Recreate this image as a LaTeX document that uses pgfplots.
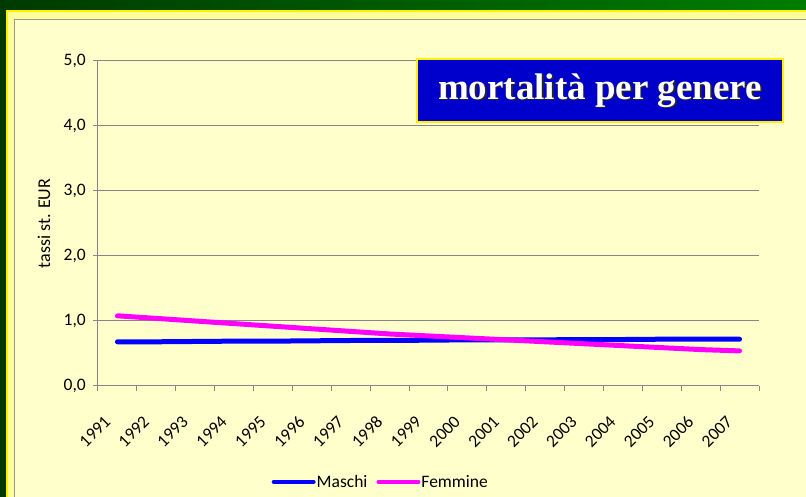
\documentclass[border=0pt]{standalone}
\usepackage{pgfplots}
\pgfplotsset{compat=1.18}
\usepackage{fontspec}
\setmainfont{Carlito}
\newfontfamily\titlefont{Liberation Serif}
\definecolor{gdark}{RGB}{0,58,0}
\definecolor{glight}{RGB}{0,125,0}
\definecolor{pale}{RGB}{255,255,153}
\definecolor{cream}{RGB}{255,255,204}
\definecolor{gline}{RGB}{150,150,150}
\definecolor{gridg}{RGB}{134,134,134}
\definecolor{tblue}{RGB}{0,0,204}
\definecolor{mascol}{RGB}{0,0,255}
\definecolor{femcol}{RGB}{255,0,255}
\begin{document}
\begin{tikzpicture}[x=1pt,y=1pt]
\useasboundingbox (0,0) rectangle (806,497);
\shade[left color=gdark, right color=glight] (0,0) rectangle (806,497);
\fill[yellow] (6,-5) rectangle (820,487);
\fill[pale] (8,-5) rectangle (820,485);
\fill[gline] (14,-5) rectangle (820,478);
\fill[cream] (15.2,-5) rectangle (820,476.8);
\begin{axis}[
  at={(98pt,111pt)}, anchor=south west, scale only axis,
  width=661pt, height=325pt,
  xmin=-0.5, xmax=16.5, ymin=0, ymax=5,
  axis x line*=bottom, axis y line*=left,
  axis line style={gridg, line width=1pt},
  ytick={0,1,2,3,4,5},
  ymajorgrids, grid style={gridg, line width=1pt},
  tick align=outside,
  major tick length=5pt, minor tick length=5pt,
  every tick/.style={gridg, line width=1pt},
  xtick={0,...,16},
  xticklabels={1991,1992,1993,1994,1995,1996,1997,1998,1999,2000,2001,2002,2003,2004,2005,2006,2007},
  major x tick style={draw=none},
  minor xtick={-0.5,0.5,...,16.5},
  xticklabel style={font=\fontsize{17.5}{20}\selectfont, xshift=-10pt, yshift=-28pt, rotate=45, anchor=east, inner sep=0pt},
  yticklabel style={font=\fontsize{17.5}{20}\selectfont, anchor=east, inner sep=0pt, xshift=-7pt},
  every axis label/.append style={font=\fontsize{18}{21}\selectfont},
  /pgf/number format/.cd, fixed, fixed zerofill, precision=1, use comma, assume math mode=true,
  /pgfplots/.cd,
  ylabel={tassi st. EUR},
  ylabel style={font=\fontsize{18}{21}\selectfont, at={(axis description cs:-0.0817,0.5)}, anchor=center},
  legend columns=2,
  legend style={draw=none, fill=none, at={(axis description cs:0.427,-0.295)}, anchor=center,
    font=\fontsize{17.5}{20}\selectfont, nodes={inner sep=1pt},
    /tikz/every even column/.append style={column sep=8pt}},
  legend image code/.code={\draw[#1, line width=4pt, line cap=round] (0pt,0pt) -- (40pt,0pt);},
]
\addplot[mascol, line width=5pt, line cap=round] coordinates {
(0,0.68) (1,0.68) (2,0.685) (3,0.69) (4,0.69) (5,0.695) (6,0.70) (7,0.70) (8,0.705)
(9,0.71) (10,0.71) (11,0.71) (12,0.715) (13,0.715) (14,0.72) (15,0.72) (16,0.72)};
\addlegendentry{Maschi}
\addplot[femcol, line width=5pt, line cap=round] coordinates {
(0,1.08) (1,1.04) (2,1.00) (3,0.96) (4,0.92) (5,0.88) (6,0.84) (7,0.80) (8,0.77)
(9,0.74) (10,0.71) (11,0.68) (12,0.65) (13,0.62) (14,0.59) (15,0.56) (16,0.54)};
\addlegendentry{Femmine}
\end{axis}
\node[fill=tblue, draw=yellow, line width=2pt, minimum width=366pt, minimum height=63pt, inner sep=0pt] (T) at (600,406.7) {};
\node[text=black!85, font=\titlefont\bfseries\fontsize{37}{40}\selectfont] at (601.5,405.2) {mortalità per genere};
\node[text=white, font=\titlefont\bfseries\fontsize{37}{40}\selectfont] at (600,406.7) {mortalità per genere};
\end{tikzpicture}
\end{document}
